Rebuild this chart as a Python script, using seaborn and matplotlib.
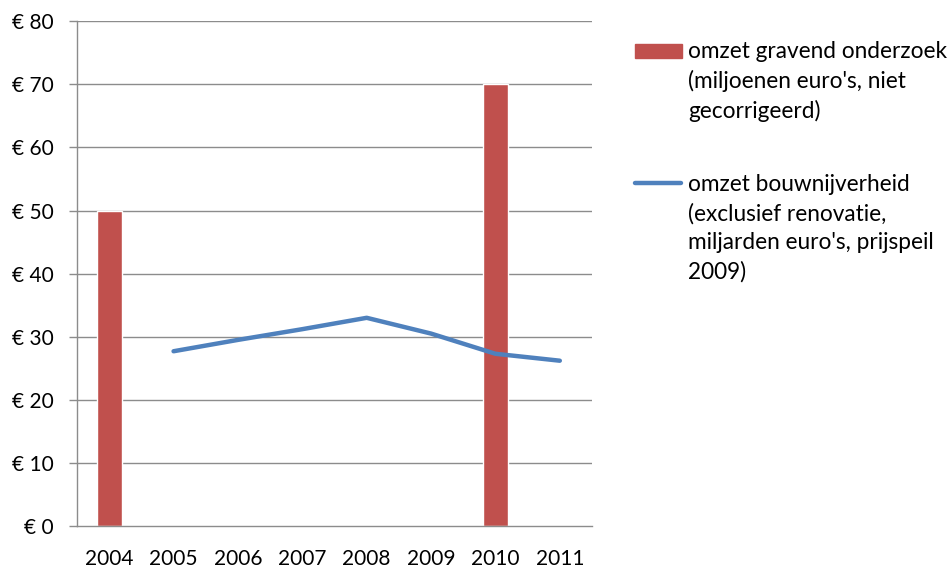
import matplotlib
matplotlib.use("Agg")
import matplotlib.pyplot as plt
from matplotlib.patches import Rectangle
from matplotlib.lines import Line2D
import pandas as pd
import seaborn as sns

# Data
years = ["2004", "2005", "2006", "2007", "2008", "2009", "2010", "2011"]
gravend = [50, None, None, None, None, None, 70, None]
bouw_years = ["2005", "2006", "2007", "2008", "2009", "2010", "2011"]
bouw = [27.7, 29.5, 31.2, 33.0, 30.5, 27.3, 26.2]
y_ticks = [0, 10, 20, 30, 40, 50, 60, 70, 80]

label_bar = "omzet gravend onderzoek\n(miljoenen euro's, niet\ngecorrigeerd)"
label_line = "omzet bouwnijverheid\n(exclusief renovatie,\nmiljarden euro's, prijspeil\n2009)"

RED = "#C0504D"
BLUE = "#4F81BD"
GRID = "#8C8C8C"

sns.set_theme(style="white")
plt.rcParams["font.family"] = ["Lato", "DejaVu Sans"]

W, H = 951, 569
fig = plt.figure(figsize=(W / 100, H / 100), dpi=100)
ax = fig.add_axes([77 / W, 43 / H, 515 / W, 504.7 / H])

bar_df = pd.DataFrame({"year": years, "value": gravend})
sns.barplot(data=bar_df, x="year", y="value", order=years, color=RED,
            width=0.39, saturation=1, ax=ax)

line_df = pd.DataFrame({"pos": [years.index(y) for y in bouw_years], "value": bouw})
sns.lineplot(data=line_df, x="pos", y="value", color=BLUE, linewidth=3.2,
             solid_capstyle="round", ax=ax)

ax.set_xlim(-0.5, len(years) - 0.5)
ax.set_ylim(0, 80)
ax.set_yticks(y_ticks)
ax.set_yticklabels([f"€ {v}" for v in y_ticks])
ax.set_xticks(range(len(years)))
ax.set_xticklabels(years)
ax.set_xlabel("")
ax.set_ylabel("")

for v in y_ticks[1:]:
    ax.axhline(v, color=GRID, linewidth=1.0, zorder=0)
ax.set_axisbelow(True)

for side in ["top", "right"]:
    ax.spines[side].set_visible(False)
for side in ["left", "bottom"]:
    ax.spines[side].set_color(GRID)
    ax.spines[side].set_linewidth(1.0)

ax.tick_params(axis="y", length=5.8, width=1, color=GRID, labelsize=15, pad=11,
               left=True, labelcolor="black")
ax.tick_params(axis="x", length=0, labelsize=15, pad=16.5, labelcolor="black")

# Legend drawn to the right, handles aligned with the first text line
fig.patches.append(Rectangle((635 / W, 1 - 58 / H), 47 / W, 14 / H,
                             transform=fig.transFigure, color=RED))
fig.text(688 / W, 1 - 41 / H, label_bar, ha="left", va="top",
         fontsize=16.3, linespacing=1.45, color="black")
fig.lines.append(Line2D([635 / W, 681 / W], [1 - 183 / H, 1 - 183 / H],
                        transform=fig.transFigure, color=BLUE, linewidth=3.2,
                        solid_capstyle="round"))
fig.text(688 / W, 1 - 174 / H, label_line, ha="left", va="top",
         fontsize=16.3, linespacing=1.45, color="black")

fig.savefig("out.png", dpi=100)
